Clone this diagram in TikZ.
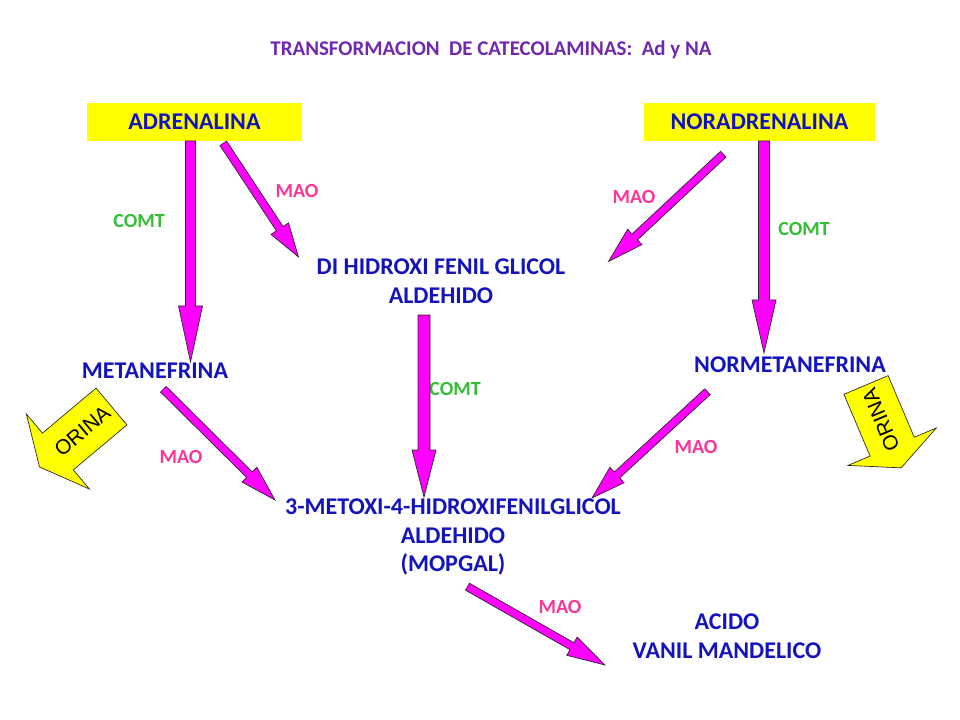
\documentclass[tikz,border=0pt]{standalone}
\usepackage{fontspec}
\setmainfont{Carlito}
\newfontfamily\arialf{Liberation Sans}
\usetikzlibrary{calc}
\definecolor{titlec}{RGB}{112,40,175}
\definecolor{bluec}{RGB}{20,20,190}
\definecolor{maoc}{RGB}{250,55,150}
\definecolor{comtc}{RGB}{51,190,51}
\definecolor{magc}{RGB}{255,0,255}
\definecolor{yelc}{RGB}{255,255,0}
\tikzset{
  compound/.style={text=bluec, font=\fontsize{18}{21.5}\selectfont\bfseries, align=center, inner sep=0pt},
  boxc/.style={compound, fill=yelc, minimum height=28.5pt},
  titlenode/.style={text=titlec, font=\fontsize{15.7}{19}\selectfont\bfseries, inner sep=0pt},
  maolbl/.style={text=maoc, font=\fontsize{15}{17}\selectfont\bfseries, inner sep=0pt},
  comtlbl/.style={text=comtc, font=\fontsize{15}{17}\selectfont\bfseries, inner sep=0pt},
  magarrow/.style={fill=magc, draw=black!85, line width=0.5pt, line join=miter},
  yelarrow/.style={fill=yelc, draw=black!85, line width=0.5pt, line join=miter},
  orinatxt/.style={font=\arialf\fontsize{15.5}{17}\selectfont, text=black, inner sep=0pt}
}
% tail, tip, shaft width px, head width px, head length px
\newcommand\magarrowdraw[5]{%
  \coordinate (mh) at ($(#2)!#5*0.75pt!(#1)$);
  \draw[magarrow] ($(#1)!#3*0.375pt!90:(#2)$) -- ($(mh)!#3*0.375pt!-90:(#1)$)
    -- ($(mh)!#4*0.375pt!-90:(#1)$) -- (#2) -- ($(mh)!#4*0.375pt!90:(#1)$)
    -- ($(mh)!#3*0.375pt!90:(#1)$) -- ($(#1)!#3*0.375pt!-90:(#2)$) -- cycle;}
\begin{document}
\begin{tikzpicture}[x=0.75pt, y=-0.75pt]
\useasboundingbox (0,0) rectangle (960,720);
\fill[white] (0,0) rectangle (960,720);

% title
\node[titlenode] (title) at (491,50) {TRANSFORMACION\ \ DE CATECOLAMINAS:\ \ Ad y NA};

% compounds
\node[boxc, minimum width=161.25pt] (adr) at (194.5,122) {ADRENALINA};
\node[boxc, minimum width=173.25pt] (nor) at (759.5,122) {NORADRENALINA};
\node[compound] (dhfg) at (441,281) {DI HIDROXI FENIL GLICOL\\ALDEHIDO};
\node[compound] (met) at (155,371) {METANEFRINA};
\node[compound] (normet) at (790,365) {NORMETANEFRINA};
\node[compound] (mopgal) at (453,537) {3-METOXI-4-HIDROXIFENILGLICOL\\ALDEHIDO\\(MOPGAL)};
\node[compound] (vma) at (727,636) {ACIDO\\VANIL MANDELICO};

% enzyme labels
\node[comtlbl] (c1) at (139,221) {COMT};
\node[maolbl] (m1) at (297,191) {MAO};
\node[maolbl] (m2) at (634,197) {MAO};
\node[comtlbl] (c2) at (804,229) {COMT};
\node[comtlbl] (c3) at (455,389) {COMT};
\node[maolbl] (m3) at (181,457) {MAO};
\node[maolbl] (m4) at (696,447) {MAO};
\node[maolbl] (m5) at (560,607) {MAO};

% arrow end points
\coordinate (a1t) at (190.5,141); \coordinate (a1h) at (190.5,362);
\coordinate (a2t) at (223.3,143.3); \coordinate (a2h) at (298.5,257);
\coordinate (a3t) at (723.3,154.2); \coordinate (a3h) at (608.5,261.5);
\coordinate (a4t) at (764,141); \coordinate (a4h) at (764,353);
\coordinate (a5t) at (424,315); \coordinate (a5h) at (424,497);
\coordinate (a6t) at (163.3,389.2); \coordinate (a6h) at (275,500);
\coordinate (a7t) at (707.5,391.7); \coordinate (a7h) at (592,498);
\coordinate (a8t) at (467.5,586.7); \coordinate (a8h) at (605,665);

\magarrowdraw{a1t}{a1h}{10}{24}{56}
\magarrowdraw{a2t}{a2h}{8}{21}{34}
\magarrowdraw{a3t}{a3h}{8}{21}{36}
\magarrowdraw{a4t}{a4h}{11}{24}{53}
\magarrowdraw{a5t}{a5h}{12}{24}{47}
\magarrowdraw{a6t}{a6h}{8}{21}{36}
\magarrowdraw{a7t}{a7h}{8}{21}{34}
\magarrowdraw{a8t}{a8h}{8}{21}{38}

% ORINA arrows
\begin{scope}[shift={(111.5,406.5)}, rotate=220]
  \draw[yelarrow] (0,-24) -- (70,-24) -- (70,-49) -- (94,0) -- (70,49) -- (70,24) -- (0,24) -- cycle;
  \node[orinatxt, rotate=40] (or1) at (38,0) {ORINA};
\end{scope}
\begin{scope}[shift={(866,385)}, rotate=-67]
  \draw[yelarrow] (0,-24) -- (67,-24) -- (67,-48) -- (90,0) -- (67,48) -- (67,24) -- (0,24) -- cycle;
  \node[orinatxt, rotate=113] (or2) at (38,0) {ORINA};
\end{scope}
\end{tikzpicture}
\end{document}
